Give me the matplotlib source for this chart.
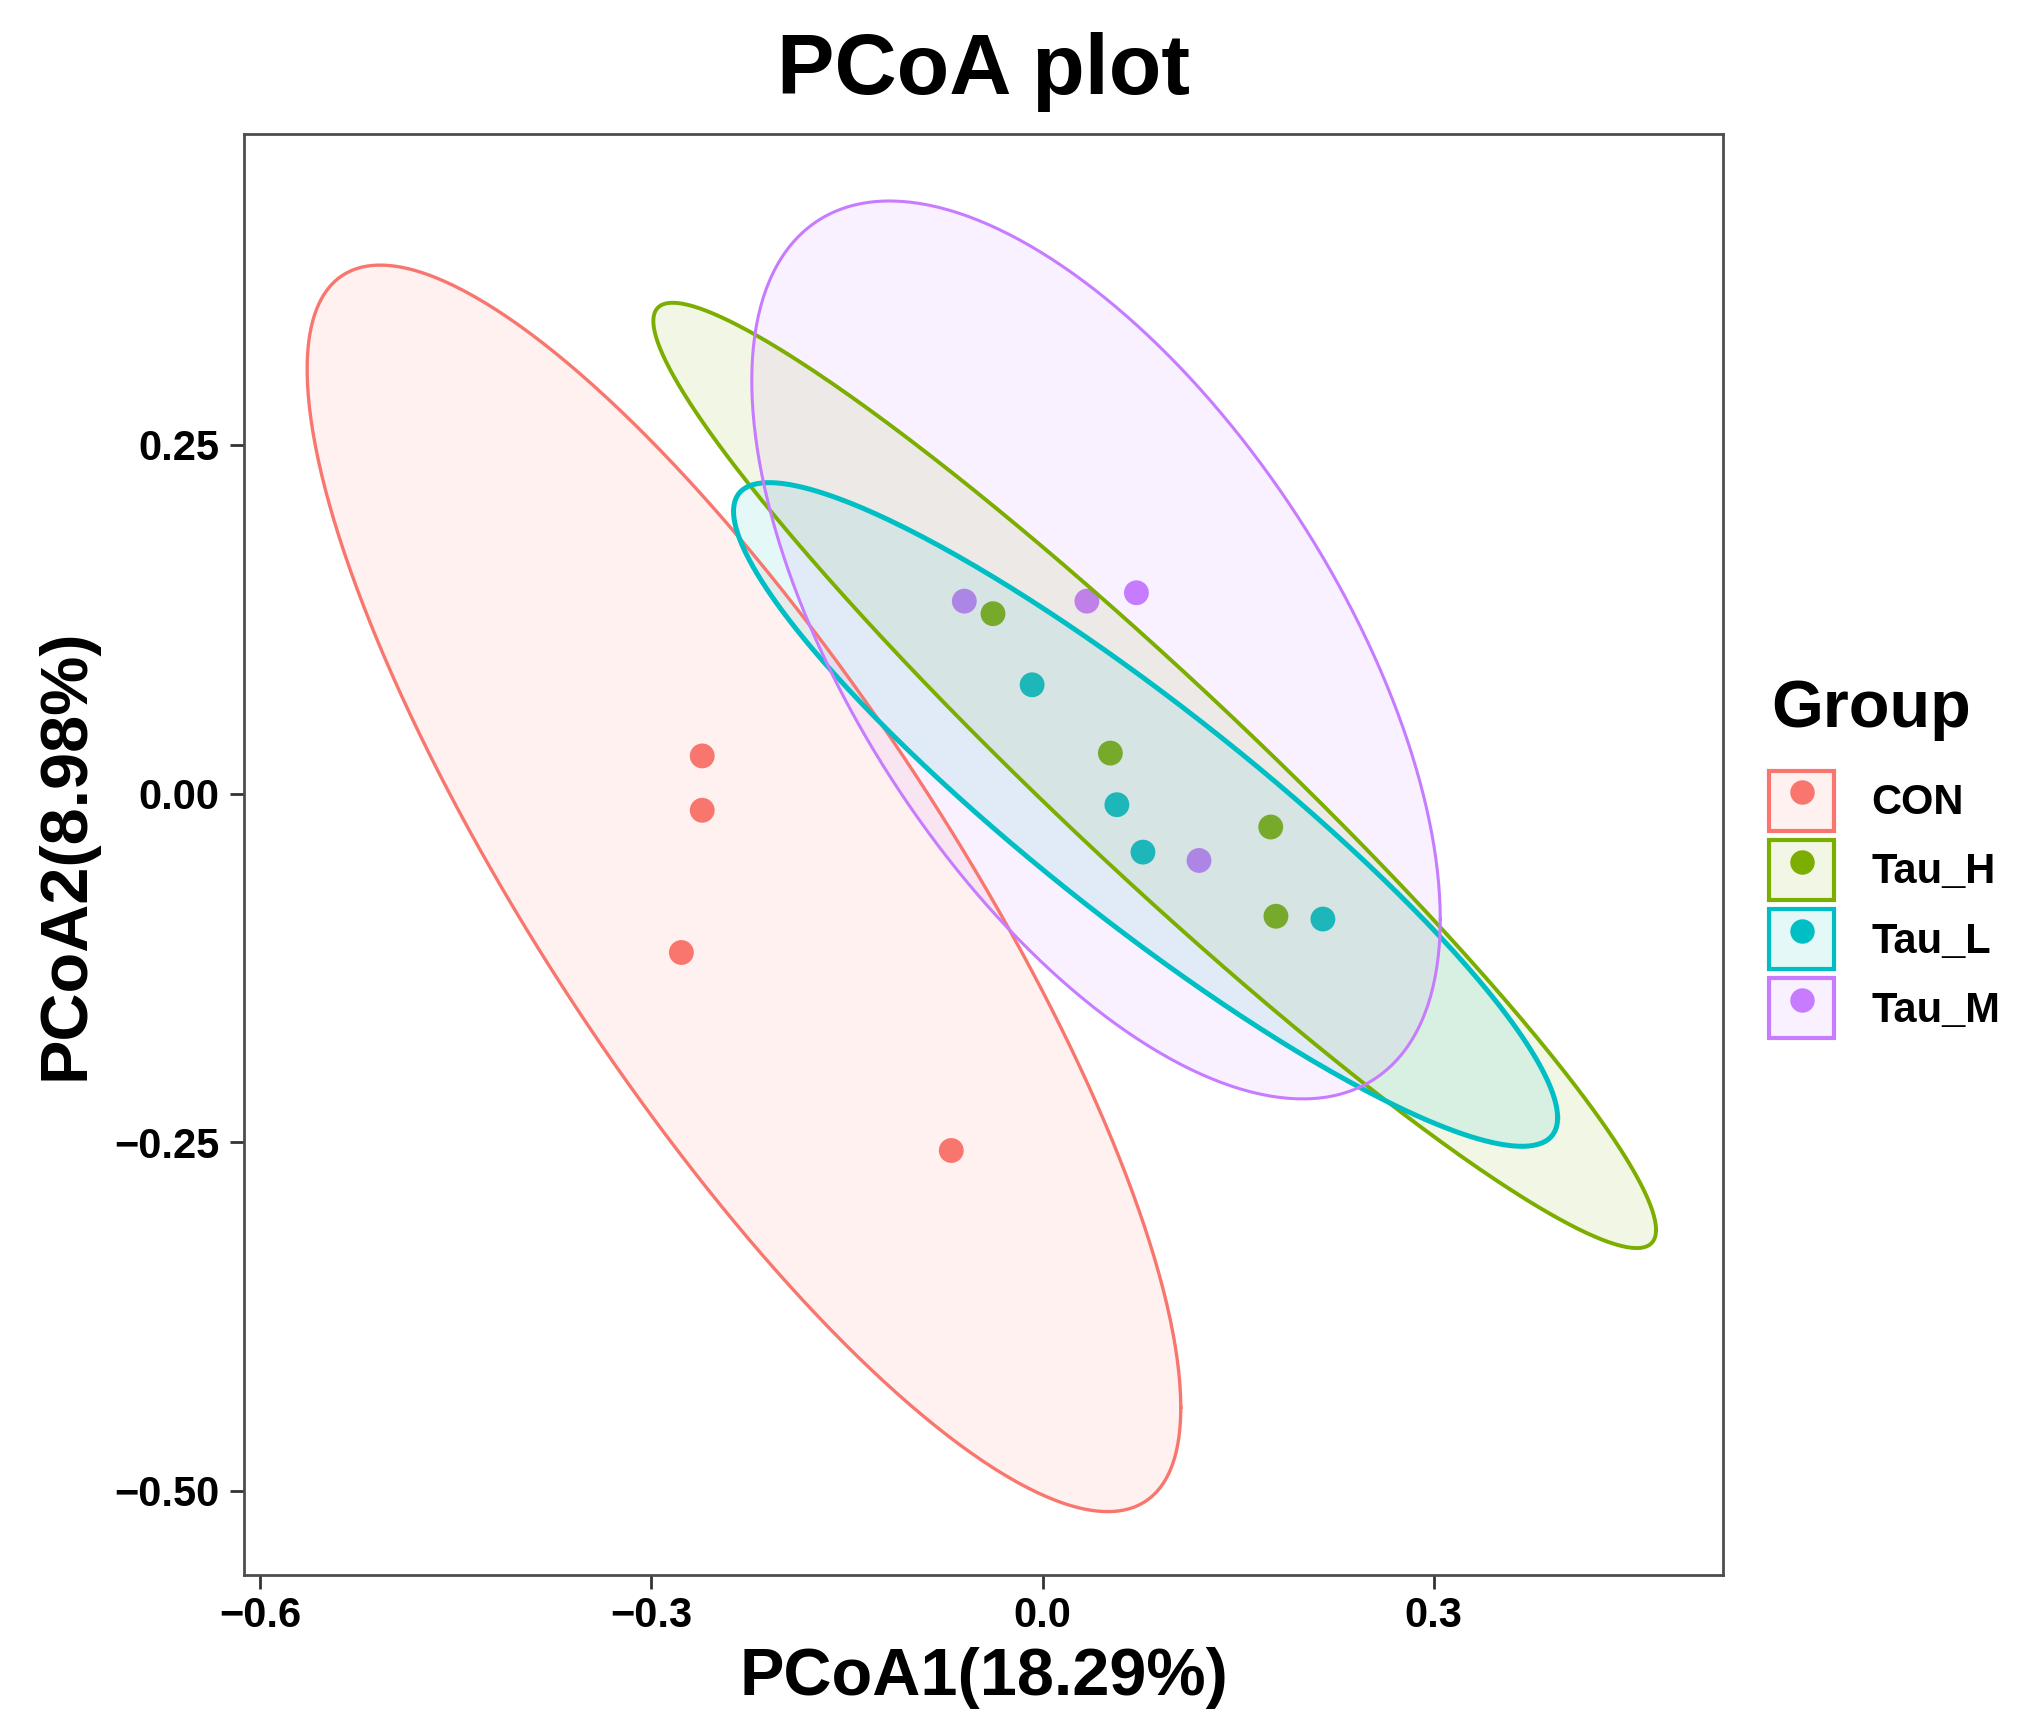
import numpy as np
import matplotlib
matplotlib.use('Agg')
import matplotlib.pyplot as plt
from matplotlib.patches import Patch
from matplotlib.lines import Line2D

plt.rcParams['font.family'] = ['Liberation Sans', 'DejaVu Sans']
plt.rcParams['font.weight'] = 'bold'

groups = ['CON', 'Tau_H', 'Tau_L', 'Tau_M']
colors = ['#F8766D', '#7CAE00', '#00BFC4', '#C77CFF']

# sample scores (PCoA1, PCoA2)
con_x = [-0.261, -0.261, -0.277, -0.070]
con_y = [0.027, -0.012, -0.114, -0.256]
tau_h_x = [-0.038, 0.052, 0.175, 0.179]
tau_h_y = [0.129, 0.029, -0.024, -0.088]
tau_l_x = [-0.008, 0.057, 0.077, 0.215]
tau_l_y = [0.078, -0.008, -0.042, -0.090]
tau_m_x = [-0.060, 0.034, 0.072, 0.120]
tau_m_y = [0.138, 0.138, 0.144, -0.048]

# 95% ellipses as drawn: centre, half extent along x / y, and covariance term
ell_cx = [-0.229, 0.086, 0.079, 0.041]
ell_cy = [-0.068, 0.013, -0.015, 0.103]
ell_hx = [0.335, 0.3845, 0.316, 0.264]
ell_hy = [0.447, 0.339, 0.238, 0.322]
ell_cxy = [-0.1247, -0.1253, -0.0687, -0.0510]

xticks = [-0.6, -0.3, 0.0, 0.3]
yticks = [-0.50, -0.25, 0.00, 0.25]

xs = [con_x, tau_h_x, tau_l_x, tau_m_x]
ys = [con_y, tau_h_y, tau_l_y, tau_m_y]
line_w = [1.2, 1.4, 1.8, 1.1]

fig = plt.figure(figsize=(10.16, 8.66), dpi=200)
ax = fig.add_axes([0.1201, 0.0907, 0.7278, 0.8319])

for i, g in enumerate(groups):
    ax.scatter(xs[i], ys[i], s=80, color=colors[i], edgecolors='none', zorder=2)

t = np.linspace(0, 2 * np.pi, 400)
for i, g in enumerate(groups):
    cov = np.array([[ell_hx[i] ** 2, ell_cxy[i]], [ell_cxy[i], ell_hy[i] ** 2]])
    L = np.linalg.cholesky(cov)
    pts = L @ np.vstack([np.cos(t), np.sin(t)])
    ex = ell_cx[i] + pts[0]
    ey = ell_cy[i] + pts[1]
    ax.fill(ex, ey, facecolor=colors[i], alpha=0.1, edgecolor='none', zorder=3)
    ax.plot(ex, ey, color=colors[i], lw=line_w[i], zorder=4)

ax.set_xlim(-0.6124, 0.5218)
ax.set_ylim(-0.5604, 0.4730)
ax.set_xticks(xticks)
ax.set_xticklabels([f'{v:.1f}'.replace('-', '\u2212') for v in xticks])
ax.set_yticks(yticks)
ax.set_yticklabels([f'{v:.2f}'.replace('-', '\u2212') for v in yticks])
ax.tick_params(labelsize=15, length=5, width=1.0, color='#333333')
ax.tick_params(axis='x', pad=2.5)
ax.tick_params(axis='y', pad=4)
for sp in ax.spines.values():
    sp.set_color('#4d4d4d')
    sp.set_linewidth(1.0)

ax.set_xlabel('PCoA1(18.29%)', fontsize=24, fontweight='bold', labelpad=4)
ax.set_ylabel('PCoA2(8.98%)', fontsize=24, fontweight='bold', labelpad=6)
ax.set_title('PCoA plot', fontsize=31, fontweight='bold', pad=14.5)

handles = []
for i, g in enumerate(groups):
    box = Patch(facecolor=matplotlib.colors.to_rgba(colors[i], 0.1), edgecolor=colors[i], linewidth=1.5)
    dot = Line2D([], [], marker='o', markersize=8.8, color=colors[i], linestyle='', markeredgewidth=0)
    handles.append((box, dot))

fig.text(0.8716, 0.590, 'Group', fontsize=24, fontweight='bold', ha='left', va='center')
fig.legend(handles, groups, loc='center left', bbox_to_anchor=(0.8706, 0.4777),
           frameon=False, fontsize=15,
           handlelength=1.56, handleheight=1.84, labelspacing=0.22,
           handletextpad=0.89, borderpad=0, borderaxespad=0)

fig.savefig('out.png', dpi=200, facecolor='white')
